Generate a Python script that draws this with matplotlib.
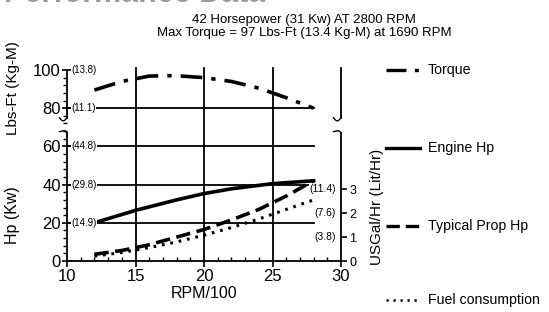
import numpy as np
import matplotlib
matplotlib.use("Agg")
import matplotlib.pyplot as plt
from matplotlib.ticker import MultipleLocator

plt.rcParams['font.family'] = ['Liberation Sans', 'DejaVu Sans']

# data (x in RPM/100)
torque_rpm = [12, 14, 16, 17, 18, 20, 22, 24, 26, 28]
torque_lbft = [89.5, 94, 96.8, 97, 97, 96, 94, 90.5, 85.5, 80]

engine_rpm = [12, 15, 18, 20, 22, 25, 28]
engine_hp = [20, 26.5, 32, 35.3, 37.8, 40.5, 42]

prop_rpm = [12, 14, 16, 18, 20, 22, 24, 26, 28]
prop_hp = [3.5, 5.5, 8.5, 12.5, 16.5, 21.5, 27, 34, 42]

fuel_rpm = [12, 14, 16, 18, 20, 22, 24, 26, 28]
fuel_gal = [0.2, 0.36, 0.56, 0.8, 1.08, 1.4, 1.76, 2.16, 2.56]

left_ticks = [0, 20, 40, 60, 80, 100]
left_metric = {100: "(13.8)", 80: "(11.1)", 60: "(44.8)", 40: "(29.8)", 20: "(14.9)"}
right_ticks = [0, 1, 2, 3]
right_metric = {3: "(11.4)", 2: "(7.6)", 1: "(3.8)"}

fig = plt.figure(figsize=(5.49, 3.12), dpi=100)
ax = fig.add_axes([67/549, 51/312, 274/549, 191/312])
ax.set_xlim(10, 30)
ax.set_ylim(0, 100)
for s in ax.spines.values():
    s.set_visible(False)

k = 'black'
lw_grid = 1.3
# frame pieces with breaks
ax.plot([10, 10], [0, 67], color=k, lw=lw_grid, clip_on=False)
ax.plot([10, 10], [75, 100], color=k, lw=lw_grid, clip_on=False)
ax.plot([30, 30], [0, 67], color=k, lw=lw_grid, clip_on=False)
ax.plot([30, 30], [75, 101], color=k, lw=lw_grid, clip_on=False)
ax.plot([10, 30], [0, 0], color=k, lw=lw_grid, clip_on=False)
t = np.linspace(0, 1, 20)
for xb in [10, 30]:
    # curl at bottom of upper piece
    ax.plot(xb - 0.55 * t, 75 - 1.6 * np.sin(t * np.pi), color=k, lw=1.0, clip_on=False)
    # curl at top of lower piece
    ax.plot(xb - 0.55 * t, 67 + 1.6 * np.sin(t * np.pi) * (1 - t) + 0.8 * t, color=k, lw=1.0, clip_on=False)

# grid
for yv in [20, 40, 60, 80]:
    ax.plot([10, 28], [yv, yv], color=k, lw=lw_grid)
for xv in [15, 20, 25]:
    ax.plot([xv, xv], [0, 101], color=k, lw=lw_grid, clip_on=False)

# curves
ax.plot(torque_rpm, torque_lbft, color=k, lw=2.6, dashes=(6, 2.5, 1.2, 2.5))
ax.plot(engine_rpm, engine_hp, color=k, lw=2.6)
ax.plot(prop_rpm, prop_hp, color=k, lw=2.6, dashes=(4, 1.8))

ax2 = ax.twinx()
ax2.set_ylim(0, 8.0)
for s in ax2.spines.values():
    s.set_visible(False)
ax2.plot(fuel_rpm, fuel_gal, color=k, lw=2.2, dashes=(0.9, 1.9))

# ticks
ax.set_xticks([10, 15, 20, 25, 30])
ax.xaxis.set_minor_locator(MultipleLocator(1))
ax.tick_params(axis='x', which='major', direction='out', length=4, width=1.2, labelsize=12, pad=2)
ax.tick_params(axis='x', which='minor', direction='in', length=3, width=1.0)
ax.set_yticks(left_ticks)
ax.yaxis.set_minor_locator(MultipleLocator(4))
ax.tick_params(axis='y', which='major', direction='inout', length=7, width=1.2, labelsize=12, pad=1)
ax.tick_params(axis='y', which='minor', direction='out', length=3, width=1.0)
ax2.set_yticks(right_ticks)
ax2.tick_params(axis='y', which='major', direction='out', length=4, width=1.2, labelsize=9, pad=2)

for yv, lab in left_metric.items():
    ax.text(10.3, yv, lab, fontsize=7, ha='left', va='center', color=k, zorder=5,
            bbox=dict(facecolor='white', edgecolor='none', pad=0.3))
for yv, lab in right_metric.items():
    ax2.text(29.65, yv, lab, fontsize=7.5, ha='right', va='center', color=k, zorder=5,
             bbox=dict(facecolor='white', edgecolor='none', pad=0.3))

ax.set_xlabel("RPM/100", fontsize=11.5, labelpad=1)
fig.text(13/549, 1 - 88/312, "Lbs-Ft (Kg-M)", rotation=90, fontsize=11, ha='center', va='center')
fig.text(13/549, 1 - 215/312, "Hp (Kw)", rotation=90, fontsize=11.5, ha='center', va='center')
fig.text(377/549, 1 - 207/312, "USGal/Hr (Lit/Hr)", rotation=90, fontsize=11, ha='center', va='center')

fig.text(304/549, 1 - 20/312, "42 Horsepower (31 Kw) AT 2800 RPM", fontsize=9.5, ha='center', va='center')
fig.text(304/549, 1 - 33/312, "Max Torque = 97 Lbs-Ft (13.4 Kg-M) at 1690 RPM", fontsize=9.5, ha='center', va='center')
# heading cut off at the top edge of the scan
fig.text(265/549, 1 - 2/312, "Performance Data", fontsize=22, fontweight='bold', color='#9a9a9a',
         ha='right', va='baseline')

# legend on the right
legend_items = [("Torque", 70, (6, 2.5, 1.2, 2.5)),
                ("Engine Hp", 148, None),
                ("Typical Prop Hp", 226, (4, 1.8)),
                ("Fuel consumption", 300, (0.9, 1.9))]
for name, ypx, dsh in legend_items:
    yf = 1 - ypx / 312
    ln = plt.Line2D([386/549, 420/549], [yf, yf], transform=fig.transFigure, color=k,
                    lw=2.4 if dsh != (0.9, 1.9) else 1.8)
    if dsh is not None:
        ln.set_dashes(dsh)
    fig.add_artist(ln)
    fig.text(428/549, yf, name, fontsize=10.2, ha='left', va='center')

fig.savefig("out.png", dpi=100)
